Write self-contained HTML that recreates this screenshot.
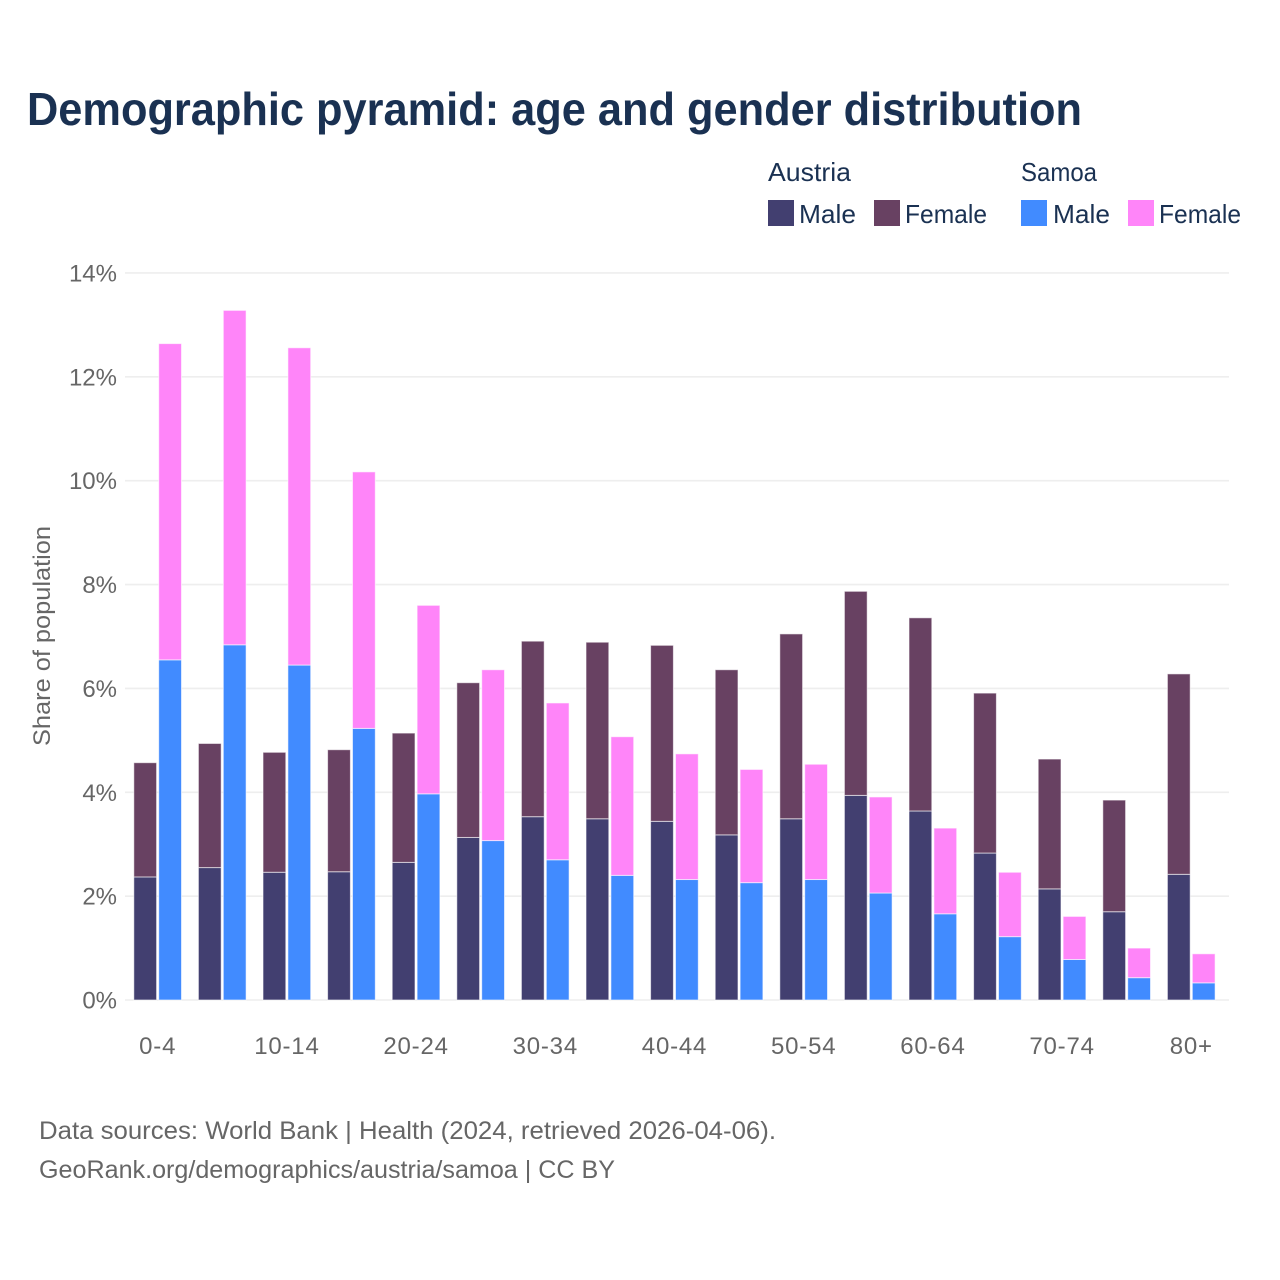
<!DOCTYPE html>
<html lang="en">
<head>
<meta charset="utf-8">
<title>Demographic pyramid: age and gender distribution</title>
<style>
html,body{margin:0;padding:0;background:#fff}
svg{display:block}
text{font-family:"Liberation Sans",sans-serif}
</style>
</head>
<body>
<svg id="chart" xmlns="http://www.w3.org/2000/svg" width="1280" height="1280" viewBox="0 0 1280 1280">
  <rect width="1280" height="1280" fill="#fff"/>
  <text x="27" y="125" font-size="46" font-weight="700" fill="#1a3152" textLength="1055" lengthAdjust="spacingAndGlyphs">Demographic pyramid: age and gender distribution</text>

  <g font-size="26" fill="#1a3152">
    <text x="768" y="181" textLength="83" lengthAdjust="spacingAndGlyphs">Austria</text>
    <text x="1021" y="181" textLength="76" lengthAdjust="spacingAndGlyphs">Samoa</text>
    <rect x="768" y="200" width="26" height="26" fill="#423f70"/>
    <text x="799" y="223" textLength="57" lengthAdjust="spacingAndGlyphs">Male</text>
    <rect x="874" y="200" width="26" height="26" fill="#684162"/>
    <text x="905" y="223" textLength="82" lengthAdjust="spacingAndGlyphs">Female</text>
    <rect x="1021" y="200" width="26" height="26" fill="#418bff"/>
    <text x="1053" y="223" textLength="57" lengthAdjust="spacingAndGlyphs">Male</text>
    <rect x="1128" y="200" width="26" height="26" fill="#ff85f9"/>
    <text x="1159" y="223" textLength="82" lengthAdjust="spacingAndGlyphs">Female</text>
  </g>

  <g id="grid"></g>
  <g id="y-ticks"></g>
  <g id="bars"></g>
  <g id="x-ticks"></g>

  <text transform="translate(50,636) rotate(-90)" text-anchor="middle" font-size="24" fill="#666" textLength="220" lengthAdjust="spacingAndGlyphs">Share of population</text>

  <text x="39" y="1139" font-size="25" fill="#666" textLength="737" lengthAdjust="spacingAndGlyphs">Data sources: World Bank | Health (2024, retrieved 2026-04-06).</text>
  <text x="39" y="1178" font-size="25" fill="#666" textLength="576" lengthAdjust="spacingAndGlyphs">GeoRank.org/demographics/austria/samoa | CC BY</text>
</svg>
<script>
const ageGroups = ["0-4","5-9","10-14","15-19","20-24","25-29","30-34","35-39","40-44","45-49","50-54","55-59","60-64","65-69","70-74","75-79","80+"];
const austriaMale = [2.37,2.55,2.46,2.47,2.65,3.13,3.53,3.49,3.44,3.18,3.49,3.94,3.64,2.83,2.14,1.70,2.42];
const austriaFemale = [2.20,2.39,2.31,2.35,2.49,2.98,3.38,3.40,3.39,3.18,3.56,3.93,3.72,3.08,2.50,2.15,3.86];
const samoaMale = [6.55,6.84,6.45,5.23,3.97,3.07,2.70,2.40,2.32,2.26,2.32,2.06,1.66,1.22,0.78,0.43,0.33];
const samoaFemale = [6.09,6.44,6.11,4.94,3.63,3.29,3.02,2.67,2.42,2.18,2.22,1.85,1.65,1.24,0.83,0.57,0.56];
const yTickValues = [0,2,4,6,8,10,12,14];

const NS = "http://www.w3.org/2000/svg";
const yScale = function (v) { return 1000 - v * 51.93; };
const xCenter = function (i) { return 157.7 + i * 64.6; };

const gridLayer = document.getElementById("grid");
const yTickLayer = document.getElementById("y-ticks");
const barLayer = document.getElementById("bars");
const xTickLayer = document.getElementById("x-ticks");

yTickValues.forEach(function (v) {
  const line = document.createElementNS(NS, "line");
  
  
  line.setAttribute("x1", 125);
  line.setAttribute("x2", 1229);
  line.setAttribute("y1", yScale(v));
  line.setAttribute("y2", yScale(v));
  line.setAttribute("stroke", "#eeeeee");
  line.setAttribute("stroke-width", 1.6);
  gridLayer.appendChild(line);

  const label = document.createElementNS(NS, "text");
  
  
  label.setAttribute("x", 117);
  label.setAttribute("y", yScale(v) + 8.5);
  label.setAttribute("text-anchor", "end");
  label.setAttribute("font-size", 24);
  label.setAttribute("fill", "#666");
  label.textContent = v + "%";
  yTickLayer.appendChild(label);
});

function drawBar(x, lower, value, color) {
  const top = yScale(lower + value);
  const rect = document.createElementNS(NS, "rect");
  
  
  rect.setAttribute("x", x);
  rect.setAttribute("y", top);
  rect.setAttribute("width", 22.8);
  rect.setAttribute("height", yScale(lower) - top);
  rect.setAttribute("fill", color);
  rect.setAttribute("stroke", "#fff");
  rect.setAttribute("stroke-opacity", 0.6);
  rect.setAttribute("stroke-width", 1);
  barLayer.appendChild(rect);
}

ageGroups.forEach(function (age, i) {
  const c = xCenter(i);
  drawBar(c - 23.9, 0, austriaMale[i], "#423f70");
  drawBar(c - 23.9, austriaMale[i], austriaFemale[i], "#684162");
  drawBar(c + 1.0, 0, samoaMale[i], "#418bff");
  drawBar(c + 1.0, samoaMale[i], samoaFemale[i], "#ff85f9");

  if (i % 2 === 0) {
    const label = document.createElementNS(NS, "text");
    
    
    label.setAttribute("x", c);
    label.setAttribute("y", 1054);
    label.setAttribute("text-anchor", "middle");
    label.setAttribute("font-size", 24);
    label.setAttribute("letter-spacing", "0.8");
    label.setAttribute("fill", "#666");
    label.textContent = age;
    xTickLayer.appendChild(label);
  }
});
</script>
</body>
</html>
